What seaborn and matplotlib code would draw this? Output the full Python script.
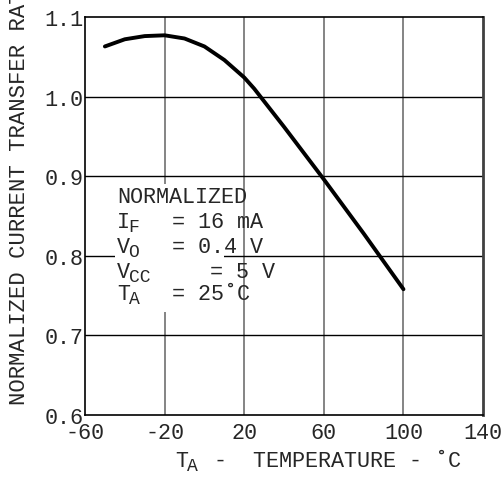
import matplotlib
matplotlib.use("Agg")
import matplotlib.pyplot as plt
import seaborn as sns
import pandas as pd
from matplotlib.patches import Rectangle

# curve
temp_c = [-50, -40, -30, -20, -10, 0, 10, 20, 25, 40, 60, 80, 100]
ctr_norm = [1.063, 1.072, 1.076, 1.077, 1.073, 1.063, 1.046, 1.024, 1.010,
            0.962, 0.896, 0.828, 0.758]

x_ticks = [-60, -20, 20, 60, 100, 140]
y_ticks = [0.6, 0.7, 0.8, 0.9, 1.0, 1.1]
y_tick_labels = ["0.6", "0.7", "0.8", "0.9", "1.0", "1.1"]

cond_names = [("I", "F"), ("V", "O"), ("V", "CC"), ("T", "A")]
cond_values = ["= 16 mA", "= 0.4 V", "= 5 V", "= 25\u02daC"]

sns.set_style("white")
plt.rcParams["font.family"] = ["Liberation Mono", "DejaVu Sans Mono"]
plt.rcParams["axes.unicode_minus"] = False

df = pd.DataFrame({"T": temp_c, "CTR": ctr_norm})

fig = plt.figure(figsize=(5.02, 4.85), dpi=100)
ax = fig.add_axes([0.1693, 0.1423, 0.793, 0.8206])

sns.lineplot(data=df, x="T", y="CTR", color="black", linewidth=2.8, ax=ax, zorder=5)

fs = 15.7
sub_fs = 13

ax.set_xlim(-60, 140)
ax.set_ylim(0.6, 1.1)
ax.set_xticks(x_ticks)
ax.set_yticks(y_ticks)
ax.set_yticklabels(y_tick_labels)
ax.tick_params(length=0, labelsize=fs)
ax.tick_params(axis="y", pad=1)
ax.tick_params(axis="x", pad=5)

for xv in x_ticks[1:-1]:
    ax.axvline(xv, color="#707070", linewidth=1.2, zorder=1)
for yv in y_ticks[1:-1]:
    ax.axhline(yv, color="black", linewidth=1.0, zorder=1)

for side in ["left", "top", "bottom"]:
    ax.spines[side].set_color("black")
    ax.spines[side].set_linewidth(1.2)
ax.spines["right"].set_color("#404040")
ax.spines["right"].set_linewidth(2)

# white area behind the condition text
ax.add_patch(Rectangle((-45, 0.729), 55, 0.161, facecolor="white",
                       edgecolor="none", zorder=2))


def sub_text(x, y, main, sub, coords="data"):
    ax.annotate(main, (x, y), xycoords=coords, fontsize=fs, va="center",
                ha="left", zorder=3, annotation_clip=False)
    ax.annotate(sub, (x, y), xycoords=coords, fontsize=sub_fs, va="center",
                ha="left", zorder=3, annotation_clip=False,
                xytext=(len(main) * 0.6 * fs * 0.9, -3.5),
                textcoords="offset points")


ax.text(-44, 0.874, "NORMALIZED", fontsize=fs, va="center", ha="left", zorder=3)
name_y = [0.843, 0.812, 0.780, 0.752]
value_x = [-16.3, -16.3, 2.8, -16.3]
for (main, sub), val, yv, xv in zip(cond_names, cond_values, name_y, value_x):
    sub_text(-44, yv, main, sub)
    ax.text(xv, yv, val, fontsize=fs, va="center", ha="left", zorder=3)

# x axis title: T_A - TEMPERATURE - degC
sub_text(0.226, -0.114, "T", "A", coords="axes fraction")
ax.annotate("-  TEMPERATURE - \u02daC", (0.226 + 3 * 0.6 * fs * 1.389 / 398, -0.114),
            xycoords="axes fraction", fontsize=fs, va="center", ha="left",
            annotation_clip=False)

ax.set_xlabel("")
ax.set_ylabel("NORMALIZED CURRENT TRANSFER RATIO", fontsize=16)
ax.yaxis.set_label_coords(-0.138, 0.583)

fig.savefig("out.png", dpi=100)
